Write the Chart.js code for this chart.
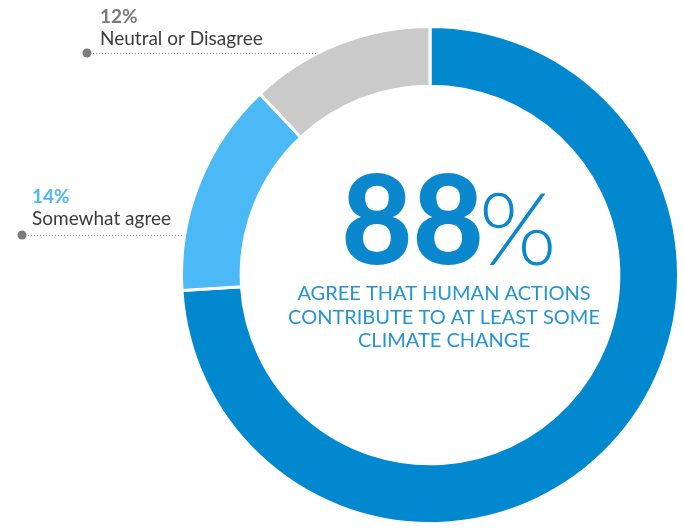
<!DOCTYPE html>
<html lang="en">
<head>
    <meta charset="UTF-8">
    <script src="https://cdn.jsdelivr.net/npm/chart.js"></script>
    <title>Human actions and climate change</title>
    <style>
        html, body {
            margin: 0;
            padding: 0;
            background: #fff;
        }
        #wrap {
            width: 684px;
            height: 531px;
        }
    </style>
</head>
<body>
    <div id="wrap"><canvas id="donut"></canvas></div>

    <script>
        const categories = ['Agree', 'Somewhat agree', 'Neutral or Disagree'];
        const shares = [74, 14, 12];
        const colors = ['#0288cf', '#4bb9f6', '#cbcaca'];
        const labelColors = ['#0288cf', '#4bb9f6', '#7a7a7a'];
        const headline = 88;
        const subtitleLines = ['AGREE THAT HUMAN ACTIONS', 'CONTRIBUTE TO AT LEAST SOME', 'CLIMATE CHANGE'];

        // callouts on the left: which slice, where the text sits, and the y of the dotted leader
        const callouts = [
            { index: 2, x: 100, y: 23, lineY: 53, dotX: 87 },
            { index: 1, x: 32, y: 203, lineY: 235, dotX: 22 }
        ];

        const centerText = {
            id: 'centerText',
            afterDraw(chart) {
                const ctx = chart.ctx;
                const arc = chart.getDatasetMeta(0).data[0];
                const cx = arc.x, cy = arc.y, r = arc.outerRadius;

                ctx.save();
                ctx.textBaseline = 'alphabetic';

                // big number and the thin percent sign
                ctx.fillStyle = '#0a87cd';
                ctx.font = '900 123px Lato';
                ctx.textAlign = 'left';
                const numText = String(headline);
                const numW = ctx.measureText(numText).width;
                ctx.font = '300 100px Lato';
                const pctW = ctx.measureText('%').width;
                const gap = -5;
                const startX = 449 - (numW + gap + pctW) / 2;
                ctx.font = '900 123px Lato';
                ctx.fillText(numText, startX, 264);
                ctx.font = '300 100px Lato';
                ctx.fillText('%', startX + numW + gap, 265);

                // subtitle
                ctx.fillStyle = '#2394d4';
                ctx.font = '400 20px Lato';
                ctx.textAlign = 'center';
                subtitleLines.forEach((line, i) => {
                    ctx.fillText(line, 444, 300 + i * 23.5);
                });

                // callouts with dotted leaders to the ring
                ctx.textAlign = 'left';
                callouts.forEach(c => {
                    ctx.fillStyle = labelColors[c.index];
                    ctx.font = '700 19px Lato';
                    ctx.fillText(shares[c.index] + '%', c.x, c.y);
                    ctx.fillStyle = '#3c3c3c';
                    ctx.font = '400 19px Lato';
                    ctx.fillText(categories[c.index], c.x, c.y + 22);

                    const dy = c.lineY - cy;
                    const endX = cx - Math.sqrt(Math.max(r * r - dy * dy, 0)) - 2;
                    ctx.strokeStyle = '#9a9a9a';
                    ctx.lineWidth = 1;
                    ctx.setLineDash([1, 2]);
                    ctx.beginPath();
                    ctx.moveTo(c.dotX, c.lineY + 0.5);
                    ctx.lineTo(endX, c.lineY + 0.5);
                    ctx.stroke();
                    ctx.setLineDash([]);

                    ctx.fillStyle = '#7d7d7d';
                    ctx.beginPath();
                    ctx.arc(c.dotX, c.lineY, 4.5, 0, Math.PI * 2);
                    ctx.fill();
                });

                ctx.restore();
            }
        };

        new Chart(document.getElementById('donut'), {
            type: 'doughnut',
            data: {
                labels: categories,
                datasets: [{
                    data: shares,
                    backgroundColor: colors,
                    borderColor: '#ffffff',
                    borderWidth: 3,
                    hoverOffset: 0
                }]
            },
            options: {
                responsive: true,
                maintainAspectRatio: false,
                animation: false,
                cutout: '76%',
                layout: {
                    padding: { left: 180, right: 4, top: 25, bottom: 6 }
                },
                plugins: {
                    legend: { display: false },
                    tooltip: { enabled: false }
                }
            },
            plugins: [centerText]
        });
    </script>
</body>
</html>
